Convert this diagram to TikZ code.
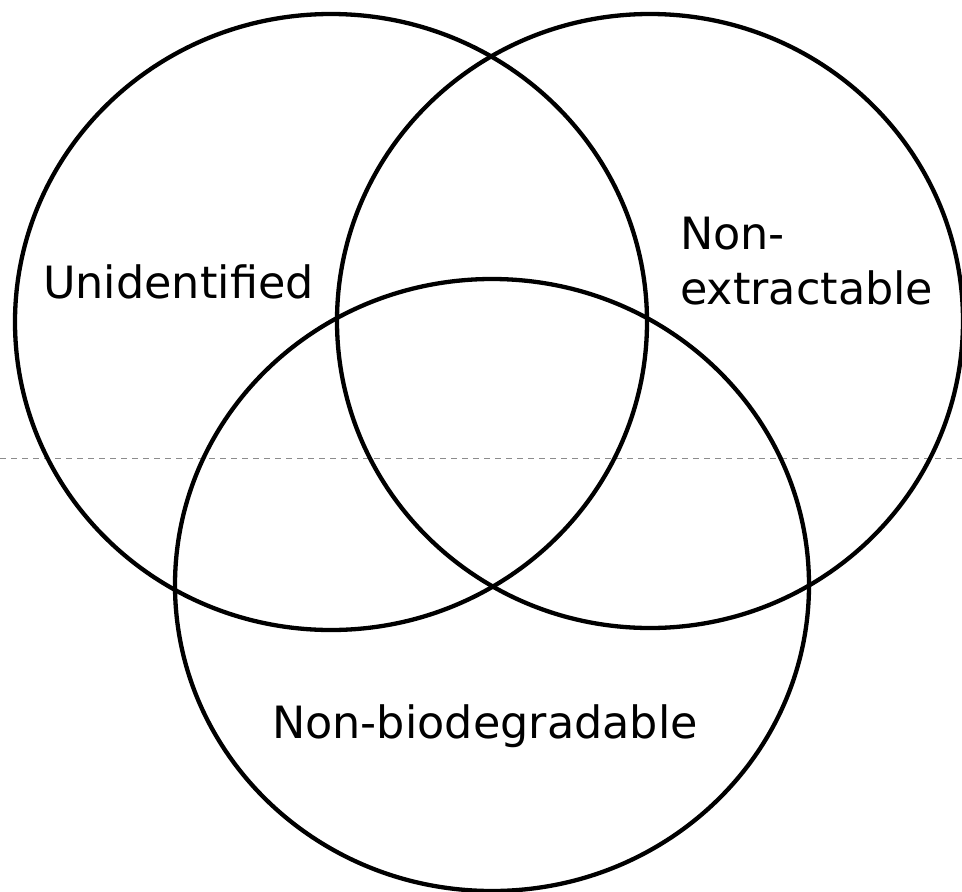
\documentclass[tikz,border=0pt]{standalone}
\usepackage{fontspec}
\setmainfont{DejaVu Sans}
\begin{document}
\begin{tikzpicture}[x=1pt,y=-1pt,
  setring/.style={draw=black,line width=4.3pt},
  setlabel/.style={font=\fontsize{44.5}{54}\selectfont,inner sep=0pt,anchor=base west},
  foldline/.style={draw=black!45,line width=0.8pt,dash pattern=on 6pt off 5pt}]
\useasboundingbox (0,0) rectangle (962,892);
\fill[white] (0,0) rectangle (962,892);
\draw[foldline] (0,458) -- (962,458);
\draw[setring] (331,322) ellipse [x radius=316pt, y radius=308pt];
\draw[setring] (650,321) ellipse [x radius=313pt, y radius=307pt];
\draw[setring] (492,585) ellipse [x radius=317pt, y radius=306pt];
\node[setlabel] (unid) at (43,298) {Unidentified};
\node[setlabel] (non) at (680,249) {Non-};
\node[setlabel] (extr) at (680,304) {extractable};
\node[setlabel] (bio) at (272,738) {Non-biodegradable};
\end{tikzpicture}
\end{document}
